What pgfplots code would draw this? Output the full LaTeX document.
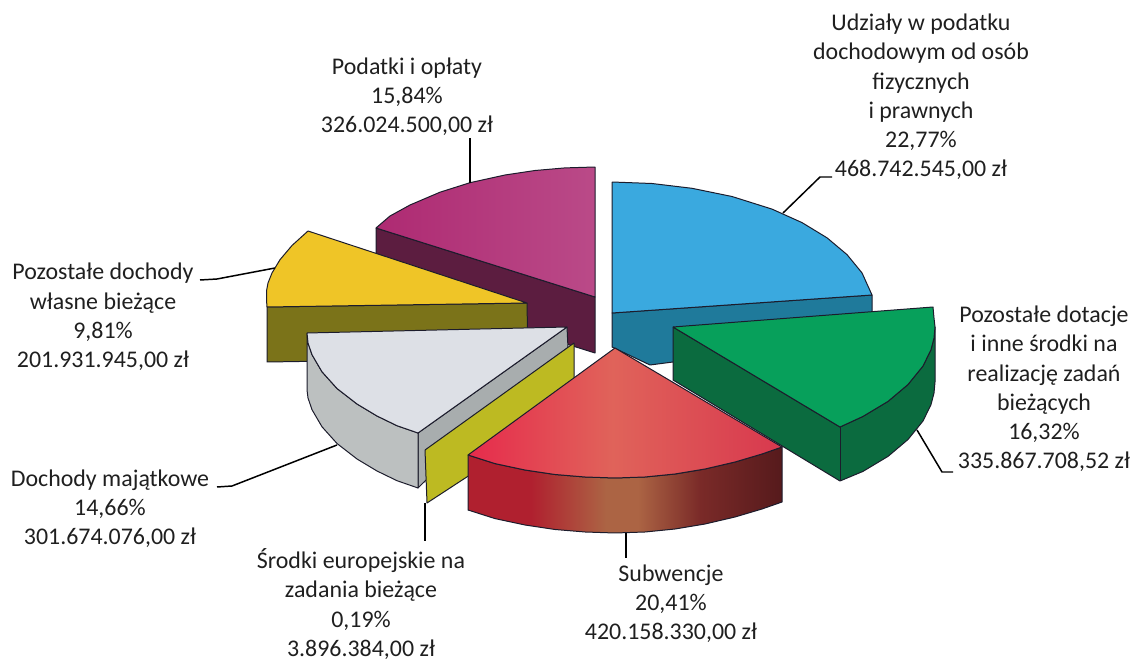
\documentclass[border=0pt]{standalone}
\usepackage{fontspec}
\setmainfont{Carlito}
\usepackage{pgfplots}
\pgfplotsset{compat=1.18}
\definecolor{edge}{HTML}{1C1C2C}
\definecolor{magl}{HTML}{AE2A72}
\definecolor{magr}{HTML}{BA4A88}
\definecolor{magside}{HTML}{5C1D40}
\definecolor{yeltop}{HTML}{EFC527}
\definecolor{yelside}{HTML}{7B7319}
\definecolor{blutop}{HTML}{3AA9DF}
\definecolor{bluside}{HTML}{1F7A9B}
\definecolor{whitop}{HTML}{DDE0E6}
\definecolor{whiside}{HTML}{BCC0C0}
\definecolor{whiinner}{HTML}{A8ADAE}
\definecolor{olive}{HTML}{BDBA22}
\definecolor{grntop}{HTML}{07A05B}
\definecolor{grnside}{HTML}{0B6B3F}
\definecolor{rt1}{HTML}{E62B4C}
\definecolor{rt2}{HTML}{E0635A}
\definecolor{rt3}{HTML}{D8384E}
\definecolor{rs1}{HTML}{B0202F}
\definecolor{rs2}{HTML}{AC6444}
\definecolor{rs3}{HTML}{7A2A28}
\definecolor{rs4}{HTML}{561A1C}
\pgfdeclarehorizontalshading{redtop}{100bp}{
  color(0bp)=(rt1); color(25bp)=(rt1); color(48bp)=(rt2);
  color(75bp)=(rt3); color(100bp)=(rt3)}
\pgfdeclarehorizontalshading{redside}{100bp}{
  color(0bp)=(rs1); color(25bp)=(rs1); color(35bp)=(rs1); color(47bp)=(rs2);
  color(52bp)=(rs2); color(62bp)=(rs3); color(75bp)=(rs4); color(100bp)=(rs4)}
\pgfplotsset{
  slice/.style={draw=edge, line width=1pt, line join=round, fill=#1, mark=none},
  lead/.style={draw=black, line width=1.5pt, mark=none}
}
\tikzset{lab/.style={font=\fontsize{24}{29.3}\selectfont, align=center, text=black!88}}
\begin{document}
\begin{tikzpicture}
\begin{axis}[
  width=1134bp, height=660bp, scale only axis,
  xmin=0, xmax=1134, ymin=0, ymax=660, y dir=reverse,
  hide axis, clip=false
]
  \path[use as bounding box] (axis cs:0,0) rectangle (axis cs:1134,660);

  % podatki i oplaty
  \addplot[slice=magside] coordinates {(376,228)(595,297)(595,353)(376,284)(376,228)};
  \addplot[draw=edge, line width=1pt, line join=round, mark=none, shade, left color=magl, right color=magr] coordinates {(595,167)(565,167.9)(535,170.5)(505,175)(470,182.7)(440,192.2)(410,205)(390,216)(376,228)(595,297)(595,167)};

  % pozostale dochody wlasne
  \addplot[slice=yelside] coordinates {(267,307)(527,303)(528,358)(267,362)(267,307)};
  \addplot[slice=yeltop] coordinates {(527,303)(308,231)(292,245.5)(280,259.7)(272,273)(268,283)(266.5,291)(266.5,300)(267,307)(527,303)};

  % udzialy w podatku
  \addplot[slice=bluside] coordinates {(612,313)(872,295)(872,345)(673,362)(650,365)(612,347)(612,313)};
  \addplot[slice=blutop] coordinates {(612,182)(652,183.5)(692,188.3)(732,196.5)(772,209.1)(802,222.6)(827,237.8)(847,254.6)(862,272.9)(872,295)(612,313)(612,182)};

  % dochody majatkowe
  \addplot[slice=whiinner] coordinates {(418,433)(567,327)(568,348)(423,483)(418,488)(418,433)};
  \addplot[slice=whiside] coordinates {(307,333)(308,343)(312,354.7)(322,371.8)(337,388.5)(357,404)(377,416)(397,425.7)(418,433)(418,488)(397,480.7)(377,471)(357,459)(337,443.5)(322,426.8)(312,409.7)(308,398)(307,390)(307,333)};
  \addplot[slice=whitop] coordinates {(307,333)(567,327)(418,433)(397,425.7)(377,416)(357,404)(337,388.5)(322,371.8)(312,354.7)(308,343)(307,333)};

  % srodki europejskie
  \addplot[slice=olive] coordinates {(425,450)(574,343)(574,407)(427,503)(425,450)};

  % pozostale dotacje
  \addplot[slice=grnside] coordinates {(673,327)(840,427)(863,416.4)(888,401.4)(908,384.5)(923,366)(931,349.6)(934,338)(935,327)(935,382)(934,393)(931,404.6)(923,421)(908,439.5)(888,456.4)(863,471.4)(840,481)(673,380)(673,327)};
  \addplot[draw=edge, line width=0.7pt, mark=none] coordinates {(840,427)(840,481)};
  \addplot[slice=grntop] coordinates {(673,327)(933,307)(934,318)(935,327)(934,338)(931,349.6)(923,366)(908,384.5)(888,401.4)(863,416.4)(840,427)(673,327)};

  % subwencje
  \addplot[draw=edge, line width=1pt, line join=round, mark=none, shading=redside] coordinates {(468,455)(495,463.6)(525,470)(555,474.5)(585,477)(615,478)(645,477)(675,474)(705,469)(735,462)(762,454)(782,447)(782,502)(762,509)(735,517)(705,524)(675,529)(645,532)(615,533)(585,532)(555,529.5)(525,525)(495,518.6)(468,510)(468,455)};
  \addplot[draw=edge, line width=1pt, line join=round, mark=none, shading=redtop] coordinates {(615,348)(782,447)(762,454)(735,462)(705,469)(675,474)(645,477)(615,478)(585,477)(555,474.5)(525,470)(495,463.6)(468,455)(615,348)};

  % linie odniesienia
  \addplot[lead] coordinates {(470,138)(470,183)};
  \addplot[lead] coordinates {(783,213)(820,177)(832,177)};
  \addplot[lead] coordinates {(200,280)(217,279)(275,268)};
  \addplot[lead] coordinates {(217,487)(232,486)(337,445)};
  \addplot[lead] coordinates {(425,503)(425,541)};
  \addplot[lead] coordinates {(626,533)(626,558)};
  \addplot[lead] coordinates {(917,430)(942,472)(953,472)};

  % opisy
  \node[lab] at (axis cs:921,97) {Udziały w podatku\\dochodowym od osób\\fizycznych\\i prawnych\\22,77\%\\468.742.545,00 zł};
  \node[lab] at (axis cs:407,97) {Podatki i opłaty\\15,84\%\\326.024.500,00 zł};
  \node[lab] at (axis cs:103,317) {Pozostałe dochody\\własne bieżące\\9,81\%\\201.931.945,00 zł};
  \node[lab] at (axis cs:110,509) {Dochody majątkowe\\14,66\%\\301.674.076,00 zł};
  \node[lab] at (axis cs:361,604) {Środki europejskie na\\zadania bieżące\\0,19\%\\3.896.384,00 zł};
  \node[lab] at (axis cs:671,604) {Subwencje\\20,41\%\\420.158.330,00 zł};
  \node[lab] at (axis cs:1044,389) {Pozostałe dotacje\\i inne środki na\\realizację zadań\\bieżących\\16,32\%\\335.867.708,52 zł};
\end{axis}
\end{tikzpicture}
\end{document}
